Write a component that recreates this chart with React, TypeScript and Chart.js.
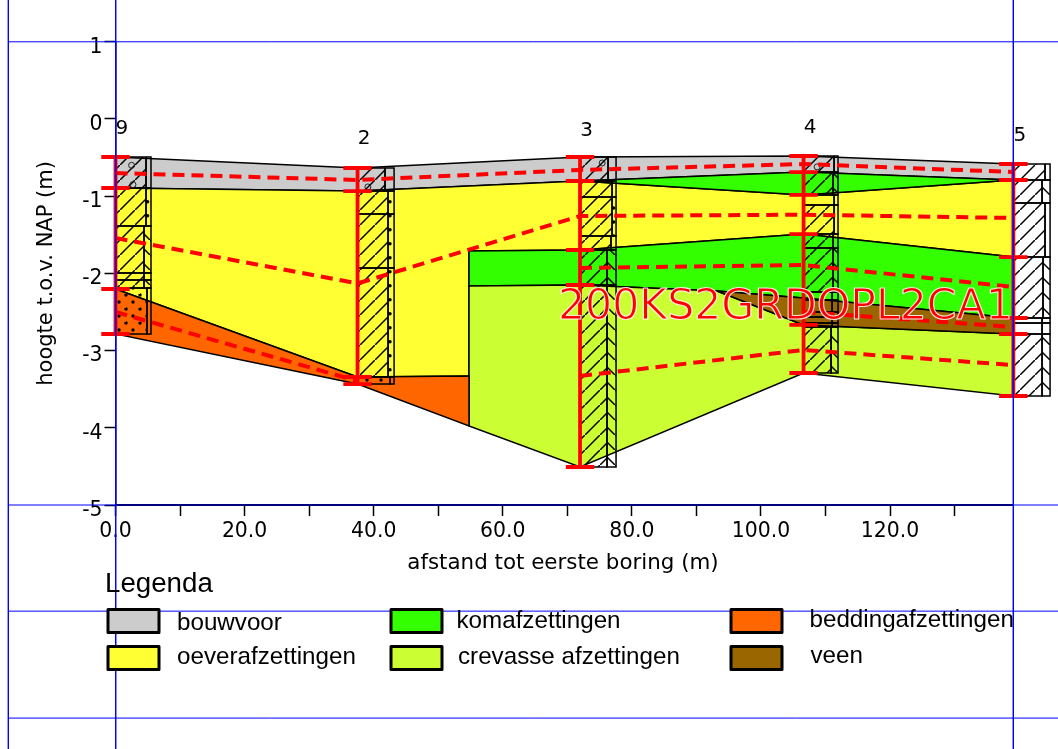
import React, { useEffect, useRef } from "react";
import { Chart, registerables } from "chart.js";

Chart.register(...registerables);

// Boring positions along the section (m)
const boringX = [0, 37.5, 71.97, 106.6, 139.1];
const boringNames = ["9", "2", "3", "4", "5"];
const boringLabelX = [1, 38.5, 73, 107.6, 140.1];
const boringLabelY = [-0.13, -0.26, -0.15, -0.12, -0.22];

const cutX = 54.77;
const wedgeX = 93.2;

// Layer boundaries (m NAP)
const bouwvoorTop = [-0.492, -0.635, -0.492, -0.479, -0.583];
const bouwvoorBottom = [-0.894, -0.933, -0.803, -0.687, -0.79];
const oeverTop = [-0.894, -0.933, -0.803, -0.984, -0.79];
const oeverBottomX = [139.1, 106.6, 71.97, cutX, cutX, 37.5, 0];
const oeverBottomY = [-1.788, -1.49, -1.697, -1.71, -3.329, -3.342, -2.202];
const komUpperX = [71.97, 106.6, 139.1, 106.6];
const komUpperY = [-0.803, -0.687, -0.79, -0.984];
const komLowerX = [cutX, 71.97, 106.6, 139.1, 139.1, 106.6, wedgeX, 71.97, cutX];
const komLowerY = [-1.71, -1.697, -1.49, -1.788, -2.578, -2.319, -2.228, -2.15, -2.163];
const veenX = [wedgeX, 106.6, 139.1, 139.1, 106.6];
const veenY = [-2.228, -2.319, -2.578, -2.785, -2.668];
const crevasseX = [cutX, 71.97, wedgeX, 106.6, 139.1, 139.1, 106.6, 71.97, cutX];
const crevasseY = [-2.163, -2.15, -2.228, -2.668, -2.785, -3.588, -3.29, -4.508, -3.977];
const beddingX = [0, 37.5, cutX, cutX, 37.5, 0];
const beddingY = [-2.202, -3.342, -3.329, -3.977, -3.433, -2.785];

// Dashed mid-layer lines
const dash1X = boringX;
const dash1Y = [-0.7, -0.79, -0.66, -0.583, -0.687];
const dash2X = boringX;
const dash2Y = [-1.541, -2.13, -1.256, -1.24, -1.282];
const dash3X = [71.97, 106.6, 139.1];
const dash3Y = [-1.93, -1.891, -2.176];
const dash4X = [106.6, 139.1];
const dash4Y = [-2.5, -2.694];
const dash5X = [71.97, 106.6, 139.1];
const dash5Y = [-3.329, -2.992, -3.187];
const dash6X = [0, 37.5];
const dash6Y = [-2.5, -3.394];

// Boring logs: row limits, width of the grain column per row, right side of the log, textures
const bore9Rows = [-0.492, -0.894, -1.385, -1.995, -2.085, -2.19, -2.785];
const bore9Grain = [4.73, 4.73, 4.42, 4.42, 4.42, 4.88];
const bore9Main = ["h", "h", "h", "h", "h", "d"];
const bore9Strip = ["p", "d", "b", "b", "b", "p"];
const bore2Rows = [-0.635, -0.933, -1.23, -1.93, -3.342, -3.433];
const bore2Grain = [4.26, 4.73, 4.73, 4.73, 5.04];
const bore2Main = ["h", "h", "h", "h", "d"];
const bore2Strip = ["p", "d", "d", "d", "p"];
const bore3Rows = [-0.492, -0.803, -1.01, -1.516, -1.697, -2.15, -4.508];
const bore3Grain = [4.34, 4.96, 4.96, 4.8, 4.18, 4.18];
const bore3Main = ["h", "h", "h", "h", "h", "h"];
const bore3Strip = ["p", "p", "d", "p", "b", "b"];
const bore4Rows = [-0.479, -0.687, -0.984, -1.114, -1.49, -1.671, -2.241, -2.345, -2.5, -2.565, -2.642, -2.694, -3.29];
const bore4Grain = [4.73, 4.57, 4.73, 4.73, 4.57, 4.57, 4.42, 4.42, 4.42, 4.42, 4.42, 4.26];
const bore4Main = ["h", "h", "p", "h", "h", "h", "p", "p", "p", "p", "p", "h"];
const bore4Strip = ["p", "b", "p", "p", "p", "b", "p", "p", "p", "p", "p", "b"];
const bore5Rows = [-0.583, -0.79, -1.088, -1.788, -2.578, -2.642, -2.785, -3.588];
const bore5Grain = [4.91, 4.45, 4.91, 4.6, 4.45, 4.45, 4.45];
const bore5Main = ["h", "h", "h", "h", "p", "p", "h"];
const bore5Strip = ["p", "b", "p", "b", "p", "p", "b"];
const logRight = [5.5, 5.66, 5.58, 5.34, 5.69];

// Small humus marks in the top soil of the logs
const humusX = [2.5, 2.7, 39.1, 75.4, 108.7];
const humusY = [-0.6, -0.85, -0.88, -0.57, -0.62];

// Frame lines
const frameX = [-16.6, 0.03, 139.1];
const frameY = [1, -5, -6.375, -7.76];
const frameLeft = -16.6;
const frameRight = 146.02;
const frameTop = 1.54;
const frameBottom = -8.16;

// Axes
const xMin = 0;
const xMax = 146.02;
const xAxisEnd = 139.1;
const yMin = -5;
const yMax = 1;

const legendTitle = "Legenda";
const legendLabels = [
  "bouwvoor",
  "oeverafzettingen",
  "komafzettingen",
  "crevasse afzettingen",
  "beddingafzettingen",
  "veen",
];
const legendColors = ["#cccccc", "#ffff33", "#33ff00", "#ccff33", "#ff6600", "#996600"];
const stampText = "200KS2GRDOPL2CA1";
const xTitle = "afstand tot eerste boring (m)";
const yTitle = "hoogte t.o.v. NAP (m)";

const pts = (xs: number[], ys: number[]) => xs.map((x, i) => ({ x, y: ys[i] }));

function tile(size: number, draw: (c: CanvasRenderingContext2D) => void) {
  const cv = document.createElement("canvas");
  cv.width = size;
  cv.height = size;
  const c = cv.getContext("2d")!;
  draw(c);
  return c.createPattern(cv, "repeat")!;
}

const App = () => {
  const ref = useRef<HTMLCanvasElement>(null);

  useEffect(() => {
    const black = "#000000";
    const T = 15;
    const hatch = tile(T, (c) => {
      c.strokeStyle = black;
      c.lineWidth = 1.5;
      c.beginPath();
      c.moveTo(-2, T + 2);
      c.lineTo(T + 2, -2);
      c.stroke();
    });
    const back = tile(T, (c) => {
      c.strokeStyle = black;
      c.lineWidth = 1.5;
      c.beginPath();
      c.moveTo(-2, -2);
      c.lineTo(T + 2, T + 2);
      c.stroke();
    });
    const dotTile = (spots: number[][]) =>
      tile(14, (c) => {
        c.fillStyle = black;
        spots.forEach(([x, y]) => {
          c.beginPath();
          c.arc(x, y, 1.7, 0, Math.PI * 2);
          c.fill();
        });
      });
    const mainDots = [
      dotTile([[7, 8], [0, 1], [14, 1], [0, 15]]),
      dotTile([[3, 2], [10, 9]]),
      dotTile([[3, 2], [10, 9]]),
      dotTile([[3, 2], [10, 9]]),
      dotTile([[3, 2], [10, 9]]),
    ];
    const stripDots = [
      dotTile([[7.6, 5.7]]),
      dotTile([[12, 5.7]]),
      dotTile([[11.7, 12]]),
      dotTile([[7, 7]]),
      dotTile([[7, 7]]),
    ];
    const texture = (code: string, dots: any) =>
      code === "h" ? hatch : code === "b" ? back : code === "d" ? dots : "rgba(0,0,0,0)";

    const datasets: any[] = [];
    const poly = (xs: number[], ys: number[], color: any, w = 1.5) => {
      const p = pts(xs, ys);
      p.push({ ...p[0] });
      datasets.push({
        data: p,
        showLine: true,
        fill: "shape",
        backgroundColor: color,
        borderColor: black,
        borderWidth: w,
        pointRadius: 0,
        clip: false,
        tension: 0,
      });
    };
    const stroke = (data: any[], color: string, w: number, dash: number[] = []) => {
      datasets.push({
        data,
        showLine: true,
        fill: false,
        borderColor: color,
        backgroundColor: color,
        borderWidth: w,
        borderDash: dash,
        pointRadius: 0,
        clip: false,
        spanGaps: false,
        tension: 0,
      });
    };

    // Layers
    poly(
      [...boringX, ...[...boringX].reverse()],
      [...bouwvoorTop, ...[...bouwvoorBottom].reverse()],
      legendColors[0]
    );
    poly([...boringX, ...oeverBottomX], [...oeverTop, ...oeverBottomY], legendColors[1]);
    poly(komUpperX, komUpperY, legendColors[2]);
    poly(komLowerX, komLowerY, legendColors[2]);
    poly(crevasseX, crevasseY, legendColors[3]);
    poly(veenX, veenY, legendColors[5]);
    poly(beddingX, beddingY, legendColors[4]);

    // Boring logs
    const logs = [
      [bore9Rows, bore9Grain, bore9Main, bore9Strip],
      [bore2Rows, bore2Grain, bore2Main, bore2Strip],
      [bore3Rows, bore3Grain, bore3Main, bore3Strip],
      [bore4Rows, bore4Grain, bore4Main, bore4Strip],
      [bore5Rows, bore5Grain, bore5Main, bore5Strip],
    ] as [number[], number[], string[], string[]][];
    logs.forEach(([rows, grain, main, strip], b) => {
      const x0 = boringX[b];
      const xr = x0 + logRight[b];
      grain.forEach((g, i) => {
        const t = rows[i];
        const u = rows[i + 1];
        poly([x0, x0 + g, x0 + g, x0], [t, t, u, u], texture(main[i], mainDots[b]));
        poly([x0 + g, xr, xr, x0 + g], [t, t, u, u], texture(strip[i], stripDots[b]));
      });
    });

    // Humus marks
    datasets.push({
      data: pts(humusX, humusY),
      showLine: false,
      pointStyle: "circle",
      pointRadius: 3,
      pointHoverRadius: 3,
      pointBorderWidth: 1,
      pointBorderColor: "#222222",
      pointBackgroundColor: "rgba(0,0,0,0)",
      clip: false,
    });

    // Red boring markers: vertical line and a cross tick on each layer limit
    const tickHalf = 2.2;
    const boreTicks = [
      [bouwvoorTop[0], bouwvoorBottom[0], oeverBottomY[6], beddingY[5]],
      [bouwvoorTop[1], bouwvoorBottom[1], oeverBottomY[5], beddingY[4]],
      [bouwvoorTop[2], bouwvoorBottom[2], oeverBottomY[2], komLowerY[7], crevasseY[7]],
      [bouwvoorTop[3], bouwvoorBottom[3], oeverTop[3], oeverBottomY[1], veenY[4], crevasseY[6]],
      [bouwvoorTop[4], bouwvoorBottom[4], oeverBottomY[0], komLowerY[4], veenY[3], crevasseY[5]],
    ];
    boreTicks.forEach((ys, b) => {
      const x = boringX[b];
      const d: any[] = [
        { x, y: ys[0] },
        { x, y: ys[ys.length - 1] },
      ];
      ys.forEach((y) => {
        d.push({ x: x, y: null });
        d.push({ x: x - tickHalf, y });
        d.push({ x: x + tickHalf, y });
      });
      stroke(d, "#ff0000", 3.8);
    });

    // Red dashed lines
    const dash = [12, 7];
    stroke(pts(dash1X, dash1Y), "#ff0000", 4, dash);
    stroke(pts(dash2X, dash2Y), "#ff0000", 4, dash);
    stroke(pts(dash3X, dash3Y), "#ff0000", 4, dash);
    stroke(pts(dash4X, dash4Y), "#ff0000", 4, dash);
    stroke(pts(dash5X, dash5Y), "#ff0000", 4, dash);
    stroke(pts(dash6X, dash6Y), "#ff0000", 4, dash);

    // X axis line
    stroke(pts([xMin, xAxisEnd], [yMin, yMin]), black, 2);

    // Blue frame
    frameY.forEach((y) => stroke(pts([frameLeft, frameRight], [y, y]), "#0000ff", 1));
    frameX.forEach((x) => stroke(pts([x, x], [frameTop, frameBottom]), "#0000ff", 1));

    datasets.forEach((d, i) => (d.order = datasets.length - i));

    const overlay = {
      id: "overlay",
      afterDatasetsDraw(chart: any) {
        const { ctx, scales } = chart;
        const sx = scales.x;
        const sy = scales.y;
        ctx.save();
        ctx.textBaseline = "alphabetic";
        ctx.textAlign = "left";
        ctx.fillStyle = black;

        // Boring names
        ctx.font = "20px 'DejaVu Sans'";
        ctx.textAlign = "center";
        ctx.textBaseline = "middle";
        boringNames.forEach((n, i) => {
          ctx.fillText(n, sx.getPixelForValue(boringLabelX[i]), sy.getPixelForValue(boringLabelY[i]));
        });
        ctx.textBaseline = "alphabetic";

        // X axis title
        ctx.font = "21.4px 'DejaVu Sans'";
        ctx.fillText(xTitle, 563, 569);

        // Stamp
        ctx.textAlign = "left";
        ctx.font = "42.6px 'DejaVu Sans'";
        ctx.lineJoin = "round";
        ctx.fillStyle = "#ff0000";
        ctx.fillText(stampText, 558, 319);
        ctx.lineWidth = 1.1;
        ctx.strokeStyle = "rgba(255,255,255,0.85)";
        ctx.strokeText(stampText, 558, 319);

        // Legend
        ctx.fillStyle = black;
        ctx.font = "27.7px 'Liberation Sans'";
        ctx.fillText(legendTitle, 105, 592);
        const boxX = [108, 391, 731];
        const boxY = [609.5, 646.5];
        const textX = [177, 177, 456.5, 458, 809.5, 810.5];
        const textY = [629.5, 664, 628, 664, 627, 663];
        ctx.font = "24.2px 'Liberation Sans'";
        legendLabels.forEach((label, i) => {
          const col = Math.floor(i / 2);
          const row = i % 2;
          ctx.fillStyle = legendColors[i];
          ctx.strokeStyle = black;
          ctx.lineWidth = 3;
          ctx.fillRect(boxX[col], boxY[row], 51, 23);
          ctx.strokeRect(boxX[col], boxY[row], 51, 23);
          ctx.fillStyle = black;
          ctx.fillText(label, textX[i], textY[i]);
        });
        ctx.restore();
      },
    };

    const chart = new Chart(ref.current!, {
      type: "scatter",
      data: { datasets },
      plugins: [overlay],
      options: {
        animation: false,
        responsive: false,
        devicePixelRatio: 1,
        layout: { autoPadding: false, padding: { top: 41.8, left: 0, right: 0, bottom: 0 } },
        plugins: { legend: { display: false }, tooltip: { enabled: false }, title: { display: false } },
        font: { family: "'DejaVu Sans'" },
        scales: {
          x: {
            type: "linear",
            min: xMin,
            max: xMax,
            afterBuildTicks: (s: any) => {
              s.ticks = s.ticks.filter((t: any) => t.value <= xAxisEnd);
            },
            afterFit: (s: any) => {
              s.height = 749 - 505;
              s.paddingLeft = 0;
              s.paddingRight = 0;
            },
            border: { display: false },
            grid: { drawOnChartArea: false, tickLength: 11, tickColor: black, tickWidth: 1.5 },
            ticks: {
              stepSize: 10,
              autoSkip: false,
              maxRotation: 0,
              padding: 3,
              color: black,
              font: { family: "'DejaVu Sans'", size: 20.4 },
              callback: (v: any) => (Number(v) % 20 === 0 ? Number(v).toFixed(1) : ""),
            },
          },
          y: {
            type: "linear",
            min: yMin,
            max: yMax,
            afterFit: (s: any) => {
              s.width = 115.5;
              s.paddingTop = 0;
              s.paddingBottom = 0;
            },
            border: { display: true, color: black, width: 1.5 },
            grid: { drawOnChartArea: false, tickLength: 11, tickColor: black, tickWidth: 1.5 },
            title: {
              display: true,
              text: yTitle,
              color: black,
              font: { family: "'DejaVu Sans'", size: 21 },
              padding: { top: 34, bottom: 0 },
            },
            ticks: {
              stepSize: 1,
              padding: 2,
              labelOffset: 5.5,
              color: black,
              font: { family: "'DejaVu Sans'", size: 20.4 },
              callback: (v: any) => String(v),
            },
          },
        },
      },
    } as any);
    return () => chart.destroy();
  }, []);

  return (
    <div style={{ position: "absolute", left: 0, top: 0, width: 1058, height: 749 }}>
      <canvas ref={ref} width={1058} height={749} style={{ display: "block" }} />
    </div>
  );
};

export default App;
